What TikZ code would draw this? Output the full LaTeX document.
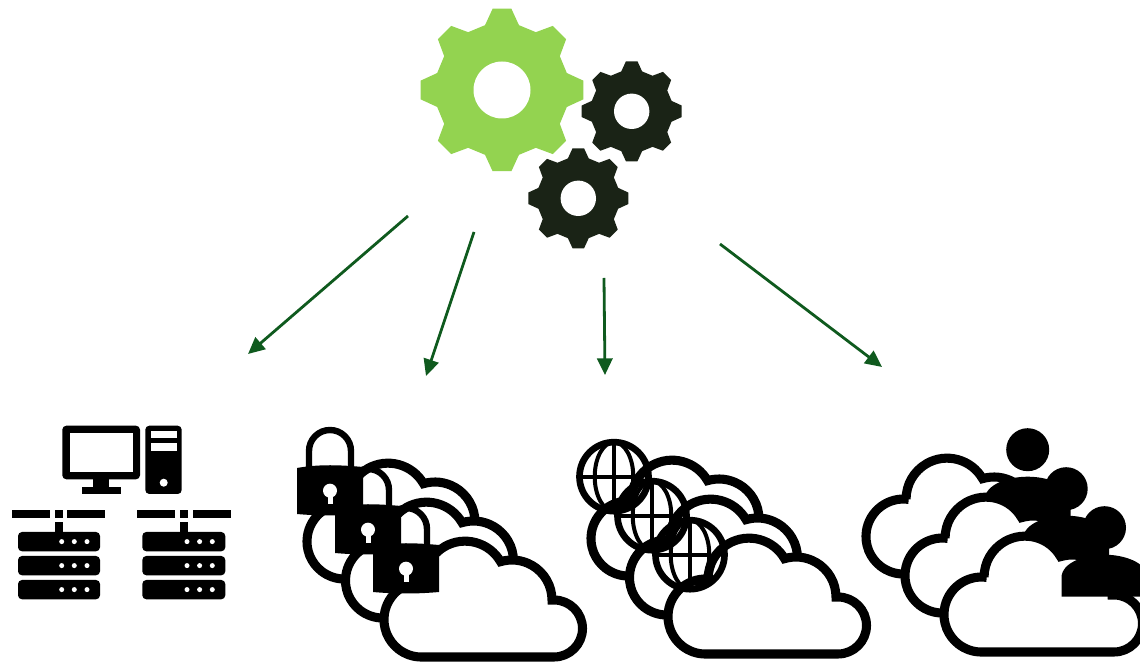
\documentclass[tikz,border=0pt]{standalone}
\usetikzlibrary{arrows.meta}
\definecolor{gearlight}{HTML}{93D350}
\definecolor{geardark}{HTML}{1A2316}
\definecolor{arrowgreen}{HTML}{0F5A1E}
\tikzset{
  x=0.75pt,y=0.75pt,
  cloudline/.style={draw=black,fill=white,line width=6.8pt,miter limit=4},
  flow/.style={draw=arrowgreen,line width=2.1pt,-{Triangle[length=12.5pt,width=11.5pt]}},
  icon/.style={fill=black},
  cutout/.style={fill=white},
  shackle/.style={draw=black,line width=4.8pt},
  globering/.style={draw=black,line width=5pt},
  globegrid/.style={draw=black,line width=3pt}
}
% scale, colour
\newcommand\gearat[2]{%
  \fill[#2] (-6.6-90:81.8*#1)
    \foreach \k [evaluate=\k as \a using 45*\k-90] in {0,...,7} {
      -- (\a-6.6:81.8*#1) -- (\a+6.6:81.8*#1) -- (\a+14.66:67*#1) -- (\a+30.34:67*#1)
    } -- cycle;
}
\newcommand\cloudat[2]{%
  \draw[cloudline,shift={(#1,#2)},yscale=-1]
    (37.5,0) -- (170,0) arc[start angle=-90,end angle=90,radius=28.5]
    -- (168,57) arc[start angle=0,end angle=106.6,radius=40]
    arc[start angle=30,end angle=180,radius=41]
    -- (42.7,74.6) arc[start angle=82,end angle=270,radius=37.5] -- cycle;
}
\newcommand\lockat[2]{%
  \begin{scope}[shift={(#1,#2)}]
    \fill[icon] (0,0) .. controls (22,-4) and (44,-3) .. (66,-1) -- (66,46)
      .. controls (44,48) and (22,48) .. (0,46) -- cycle;
    \draw[shackle,yscale=-1] (12,-1) -- (12,17) arc[start angle=180,end angle=0,radius=21] -- (54,-1);
    \fill[cutout] (33,22.7) circle [radius=7];
    \fill[cutout] (30.5,24) rectangle (35.5,36);
  \end{scope}
}
\newcommand\globeat[2]{%
  \begin{scope}[shift={(#1,#2)}]
    \draw[globegrid] (0,0) ellipse [x radius=19.3,y radius=34.5];
    \draw[globegrid] (0,-34.5) -- (0,34.5);
    \draw[globegrid] (-34.5,0) -- (19.3,0);
    \draw[globering] (0,0) circle [radius=34.5];
  \end{scope}
}
\newcommand\userat[2]{%
  \begin{scope}[shift={(#1,#2)}]
    \fill[icon] (0,0) circle [radius=21.5];
    \fill[icon] (-43,69) -- (-43,50) .. controls (-43,35) and (-20,27) .. (0,27)
      .. controls (20,27) and (43,35) .. (43,50) -- (43,69) -- cycle;
  \end{scope}
}
\newcommand\serverat[3]{%
  \begin{scope}[shift={(#1,#2)}]
    \fill[icon,rounded corners=3pt] (0,0) rectangle (#3,19.3);
    \fill[cutout] (#3-38.3,9.6) circle [radius=2.5] (#3-25.7,9.6) circle [radius=2.5] (#3-13,9.6) circle [radius=2.5];
  \end{scope}
}
\begin{document}
\begin{tikzpicture}
\useasboundingbox (0,0) rectangle (1140,664);
\clip (0,0) rectangle (1140,664);
\fill[white] (0,0) rectangle (1140,664);
\begin{scope}[shift={(0,664)},yscale=-1]
  % gears
  \begin{scope}[shift={(502,90)}]
    \gearat{1}{gearlight}
    \fill[white] (0,0) circle [radius=28.5];
  \end{scope}
  \begin{scope}[shift={(631.7,111.3)}]
    \gearat{0.615}{geardark}
    \fill[white] (0,0) circle [radius=17.7];
  \end{scope}
  \begin{scope}[shift={(578.3,198.3)}]
    \gearat{0.615}{geardark}
    \fill[white] (0,0) circle [radius=17.7];
  \end{scope}
  % connectors
  \coordinate (s1) at (408,216); \coordinate (e1) at (248,354);
  \coordinate (s2) at (474,232); \coordinate (e2) at (426,376);
  \coordinate (s3) at (604,278); \coordinate (e3) at (605,375);
  \coordinate (s4) at (720,244); \coordinate (e4) at (882,367);
  \draw[flow] (s1) -- (e1);
  \draw[flow] (s2) -- (e2);
  \draw[flow] (s3) -- (e3);
  \draw[flow] (s4) -- (e4);
  % computer
  \fill[icon,rounded corners=3pt] (62.3,425.7) rectangle (140,479.3);
  \fill[cutout] (70,433.3) rectangle (132.7,472);
  \fill[icon] (93.3,479) rectangle (109,487);
  \fill[icon] (81.7,486.7) rectangle (120.7,494);
  \fill[icon,rounded corners=3pt] (145.3,425.7) rectangle (181.7,494);
  \fill[cutout] (150.7,430.7) rectangle (176.7,438.3);
  \fill[cutout] (150.7,442.7) rectangle (176.7,450.7);
  \fill[cutout] (163.7,482.7) circle [radius=4];
  % left network
  \fill[icon] (12,510) rectangle (50,518);
  \fill[icon] (54.7,510) rectangle (63,518);
  \fill[icon] (67,510) rectangle (105,518);
  \fill[icon] (54.7,522) rectangle (63,533);
  \serverat{18}{532}{82}
  \serverat{18}{556}{82}
  \serverat{18}{580}{82}
  % right network
  \fill[icon] (137,510) rectangle (175,518);
  \fill[icon] (180,510) rectangle (188,518);
  \fill[icon] (193,510) rectangle (231,518);
  \fill[icon] (180,522) rectangle (188,533);
  \serverat{142.3}{532}{83}
  \serverat{142.3}{556}{83}
  \serverat{142.3}{580}{83}
  % clouds with locks
  \cloudat{307}{579}
  \lockat{297}{468}
  \cloudat{345.5}{618}
  \lockat{335}{507}
  \cloudat{384}{657}
  \lockat{373}{546}
  % clouds with globes
  \cloudat{591}{576}
  \globeat{614}{476.7}
  \cloudat{629.5}{615}
  \globeat{652}{515.7}
  \cloudat{668}{654}
  \globeat{690}{554.7}
  % clouds with users
  \cloudat{866}{574}
  \userat{1027.7}{449.7}
  \cloudat{905}{613}
  \userat{1066.2}{488.7}
  \cloudat{944}{652}
  \userat{1104.5}{527.7}
\end{scope}
\end{tikzpicture}
\end{document}
